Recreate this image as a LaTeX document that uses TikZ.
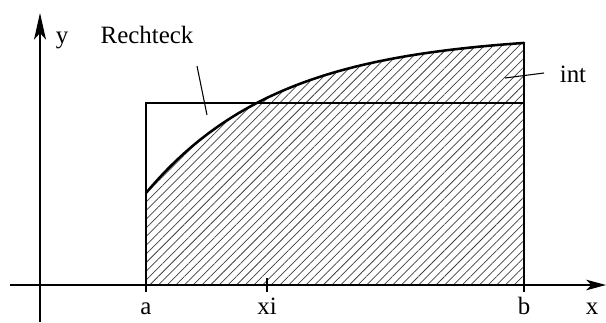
\documentclass[tikz,border=0pt]{standalone}
\usepackage{fontspec}
\setmainfont{Liberation Serif}
\usetikzlibrary{arrows.meta,patterns.meta}
\begin{document}
\begin{tikzpicture}[x=0.75pt,y=-0.75pt,
  lbl/.style={font=\fontsize{18.7}{20}\selectfont, inner sep=0pt, anchor=base},
  thin line/.style={line width=0.8pt},
  hatch/.style={pattern={Lines[angle=45,distance=4.6pt,line width=0.55pt]}, pattern color=black!75}]
\useasboundingbox (0,0) rectangle (606,322);
% coordinates
\coordinate (xstart) at (10,285);
\coordinate (xend) at (606,285);
\coordinate (ystart) at (40,322);
\coordinate (yend) at (40,13);
\coordinate (A) at (146,285);
\coordinate (B) at (524,285);
\coordinate (Acurve) at (146,193);
\coordinate (Bcurve) at (524,43);
\coordinate (Atop) at (146,103);
\coordinate (Btop) at (524,103);
\coordinate (Abelow) at (146,292);
\coordinate (Bbelow) at (524,292);
\coordinate (XItop) at (267,278);
\coordinate (XIbelow) at (267,292);
% hatched region
\fill[hatch] (A) -- plot[domain=146:524,samples=90,smooth] (\x,{285-(251.4-159.4*exp(-0.0075*(\x-146)))}) -- (B) -- cycle;
% rectangle
\draw[thin line] (Abelow) -- (Atop) -- (Btop);
% region outline
\draw[line width=1.1pt] (A) -- (Acurve);
\draw[line width=1.1pt] (Bbelow) -- (Bcurve);
\draw[line width=1.9pt,line cap=round] plot[domain=146:524,samples=90,smooth] (\x,{285-(251.4-159.4*exp(-0.0075*(\x-146)))});
% axes
\draw[thin line,-{Stealth[length=20pt,width=9pt,inset=5pt]}] (ystart) -- (yend);
\draw[thin line,-{Stealth[length=15pt,width=8pt,inset=4pt]}] (xstart) -- (xend);
\draw[line width=1.1pt] (A) -- (B);
\draw[thin line] (XItop) -- (XIbelow);
% labels
\node[lbl] (ylbl) at (62,43) {y};
\node[lbl] (rlbl) at (147,43) {Rechteck};
\node[lbl] (ilbl) at (573,82) {int};
\node[lbl] (albl) at (146,314) {a};
\node[lbl] (xilbl) at (267,314) {xi};
\node[lbl] (blbl) at (524,314) {b};
\node[lbl] (xlbl) at (592,314) {x};
% pointer lines
\coordinate (rp1) at (197,66);
\coordinate (rp2) at (207,115);
\coordinate (ip1) at (505,78);
\coordinate (ip2) at (544,73);
\draw[thin line] (rp1) -- (rp2);
\draw[thin line] (ip1) -- (ip2);
\end{tikzpicture}
\end{document}
